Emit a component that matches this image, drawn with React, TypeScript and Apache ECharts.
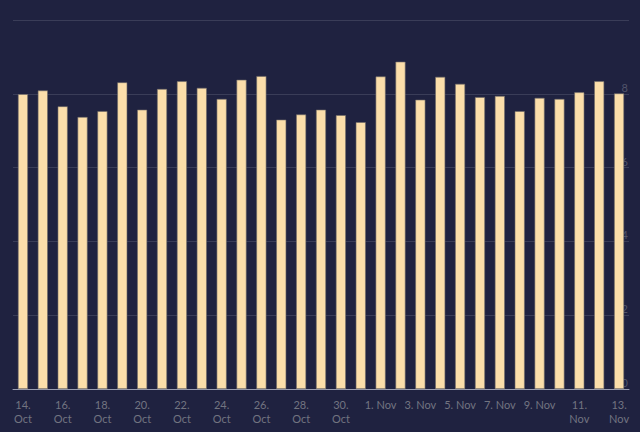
import React, { useEffect, useRef } from "react";
import * as echarts from "echarts";

const categories = [
  "14. Oct", "15. Oct", "16. Oct", "17. Oct", "18. Oct", "19. Oct", "20. Oct",
  "21. Oct", "22. Oct", "23. Oct", "24. Oct", "25. Oct", "26. Oct", "27. Oct",
  "28. Oct", "29. Oct", "30. Oct", "31. Oct", "1. Nov", "2. Nov", "3. Nov",
  "4. Nov", "5. Nov", "6. Nov", "7. Nov", "8. Nov", "9. Nov", "10. Nov",
  "11. Nov", "12. Nov", "13. Nov",
];

const values = [
  7.99, 8.09, 7.66, 7.37, 7.53, 8.31, 7.57, 8.13, 8.34, 8.16, 7.86,
  8.38, 8.48, 7.3, 7.44, 7.57, 7.42, 7.23, 8.47, 8.87, 7.84,
  8.46, 8.27, 7.91, 7.94, 7.53, 7.89, 7.86, 8.04, 8.34, 8.01,
];

const yMin = 0;
const yMax = 10;
const yStep = 2;

export default function App() {
  const ref = useRef<HTMLDivElement>(null);
  useEffect(() => {
    if (!ref.current) return;
    const chart = echarts.init(ref.current, undefined, { renderer: "svg" });
    chart.setOption({
      animation: false,
      backgroundColor: "#1f2240",
      grid: { left: 13, right: 11, top: 20, bottom: 43 },
      xAxis: {
        type: "category",
        data: categories,
        boundaryGap: true,
        axisLine: { lineStyle: { color: "#9a9db0", width: 1 } },
        axisTick: {
          alignWithLabel: true,
          interval: 1,
          length: 6,
          lineStyle: { color: "#9a9db0" },
        },
        axisLabel: {
          interval: 1,
          color: "#727480",
          fontSize: 11,
          fontFamily: "Lato",
          lineHeight: 14,
          margin: 8,
          formatter: (v: string) => {
            const [d, m] = v.split(" ");
            return d.length > 2 ? d + "\n" + m : v;
          },
        },
      },
      yAxis: {
        type: "value",
        position: "right",
        min: yMin,
        max: yMax,
        interval: yStep,
        axisLine: { show: false },
        axisTick: { show: false },
        splitLine: { lineStyle: { color: "#3a3d58", width: 1 } },
        axisLabel: {
          inside: true,
          showMaxLabel: false,
          margin: 1,
          color: "#51546a",
          fontSize: 11,
          fontFamily: "Lato",
          verticalAlign: "bottom",
          padding: [0, 0, 1, 0],
        },
      },
      series: [
        {
          type: "bar",
          data: values,
          barWidth: 10,
          itemStyle: {
            color: "#fbdeaa",
            borderColor: "#6e6a66",
            borderWidth: 0.6,
          },
        },
      ],
    });
    return () => chart.dispose();
  }, []);
  return <div ref={ref} style={{ width: 640, height: 432, position: "fixed", left: 0, top: 0 }} />;
}
